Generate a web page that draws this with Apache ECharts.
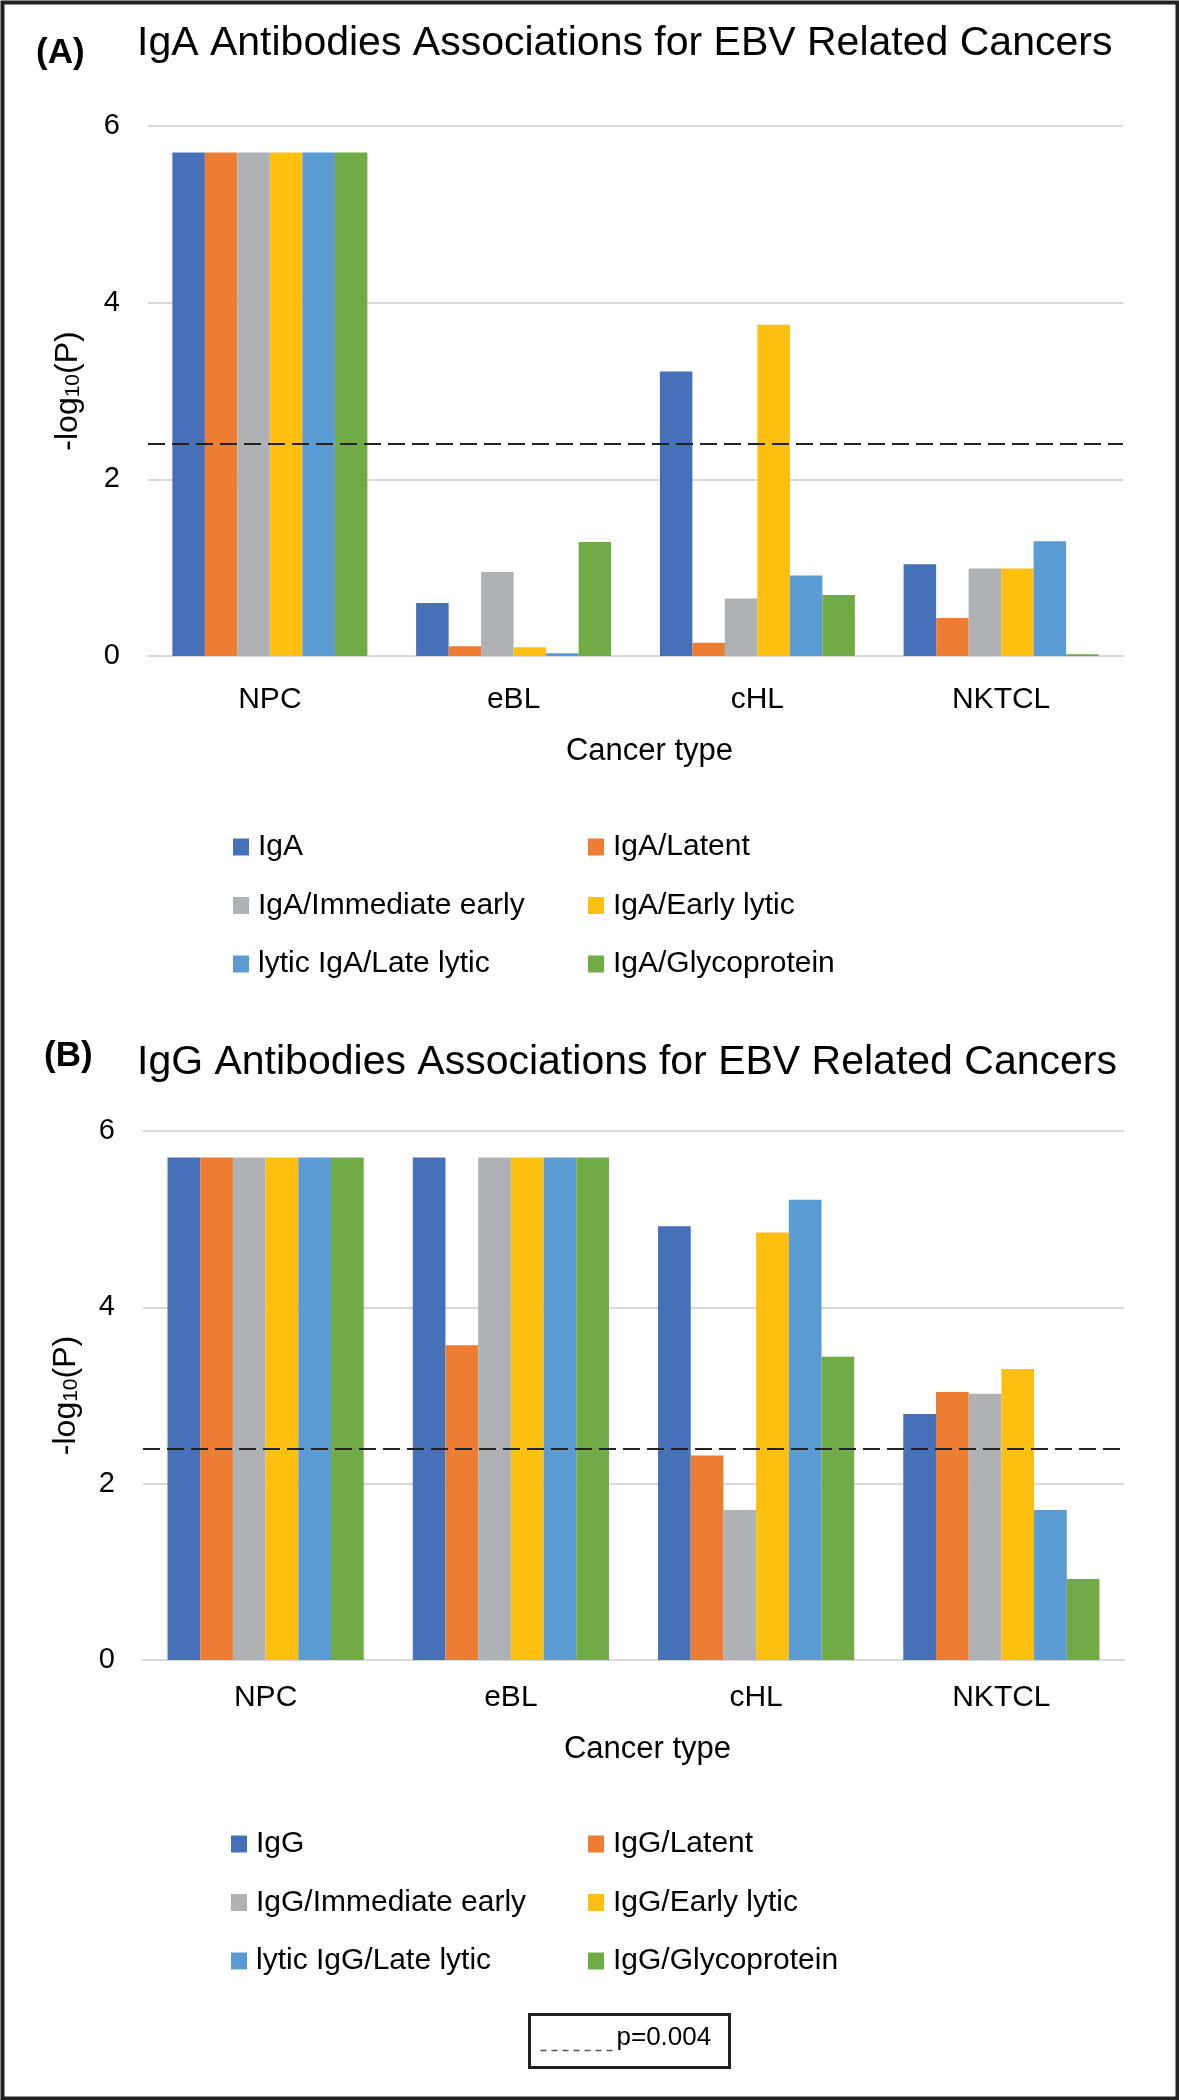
<!DOCTYPE html>
<html>
<head>
<meta charset="utf-8">
<script src="https://cdn.jsdelivr.net/npm/echarts@6/dist/echarts.min.js"></script>
<style>
  html, body { margin: 0; padding: 0; background: #fff; }
  #chart { width: 1179px; height: 2100px; }
</style>
</head>
<body>
<div id="chart"></div>
<script>
// ---------- data ----------
const categories = ['NPC', 'eBL', 'cHL', 'NKTCL'];
const yTicks = [0, 2, 4, 6];
const pThreshold = 0.004;

const namesA = ['IgA', 'IgA/Latent', 'IgA/Immediate early', 'IgA/Early lytic', 'lytic IgA/Late lytic', 'IgA/Glycoprotein'];
const igA          = [5.7, 0.60, 3.22, 1.04];
const igALatent    = [5.7, 0.11, 0.15, 0.43];
const igAImmediate = [5.7, 0.95, 0.65, 0.99];
const igAEarly     = [5.7, 0.10, 3.75, 0.99];
const igALate      = [5.7, 0.03, 0.91, 1.30];
const igAGlyco     = [5.7, 1.29, 0.69, 0.02];

const namesB = ['IgG', 'IgG/Latent', 'IgG/Immediate early', 'IgG/Early lytic', 'lytic IgG/Late lytic', 'IgG/Glycoprotein'];
const igG          = [5.7, 5.7, 4.92, 2.79];
const igGLatent    = [5.7, 3.57, 2.32, 3.04];
const igGImmediate = [5.7, 5.7, 1.70, 3.02];
const igGEarly     = [5.7, 5.7, 4.85, 3.30];
const igGLate      = [5.7, 5.7, 5.22, 1.70];
const igGGlyco     = [5.7, 5.7, 3.44, 0.92];

const valuesA = [igA, igALatent, igAImmediate, igAEarly, igALate, igAGlyco];
const valuesB = [igG, igGLatent, igGImmediate, igGEarly, igGLate, igGGlyco];

// ---------- styles ----------
const colors = ['#4670B8', '#ED7D32', '#AFB2B4', '#FDC010', '#5B9BD3', '#70AB45'];
const FONT = '"Liberation Sans", Arial, sans-serif';
const threshold = -Math.log10(pThreshold);

function yAxisDef(grid, gap) {
  return {
    type: 'value', gridIndex: grid, min: yTicks[0], max: yTicks[yTicks.length - 1], interval: 2,
    axisLine: { show: false }, axisTick: { show: false },
    splitLine: { lineStyle: { color: '#d9d9d9', width: 2 } },
    axisLabel: { fontSize: 29, color: '#000', margin: 28, fontFamily: FONT },
    name: '{a|-log}{s|10}{a|(P)}',
    nameLocation: 'middle', nameGap: gap,
    nameTextStyle: {
      fontFamily: FONT,
      rich: {
        a: { fontSize: 32, color: '#000', fontFamily: FONT, verticalAlign: 'bottom', lineHeight: 34 },
        s: { fontSize: 21, color: '#000', fontFamily: FONT, verticalAlign: 'bottom', lineHeight: 34 }
      }
    }
  };
}

function xAxisDef(grid, margin, nameGap) {
  return {
    type: 'category', gridIndex: grid, data: categories,
    axisTick: { show: false },
    axisLine: { lineStyle: { color: '#d9d9d9', width: 2 } },
    axisLabel: { fontSize: 30, color: '#000', margin: margin, fontFamily: FONT },
    name: 'Cancer type', nameLocation: 'middle', nameGap: nameGap,
    nameTextStyle: { fontSize: 31, color: '#000', fontFamily: FONT, padding: [0, 0, 0, 28] }
  };
}

function makeSeries(names, values, axisIndex) {
  return names.map((n, i) => {
    const s = {
      name: n, type: 'bar', xAxisIndex: axisIndex, yAxisIndex: axisIndex,
      data: values[i], barGap: '0%', barCategoryGap: '20%',
      itemStyle: { color: colors[i] },
      emphasis: { disabled: true }
    };
    if (i === names.length - 1) {
      s.markLine = {
        silent: true, symbol: ['none', 'none'], z: 10,
        label: { show: false },
        lineStyle: { color: '#222', width: 2, type: [17, 7] },
        data: [{ yAxis: threshold }]
      };
    }
    return s;
  });
}

function legendDef(data, left, top) {
  return {
    data: data, orient: 'vertical', left: left, top: top, padding: 0,
    itemWidth: 16, itemHeight: 17, itemGap: 28.5, icon: 'rect',
    selectedMode: false,
    textStyle: { fontSize: 30, color: '#000', fontFamily: FONT, lineHeight: 30, padding: [0, 0, 0, 4] }
  };
}

const chart = echarts.init(document.getElementById('chart'), null, { renderer: 'canvas' });

chart.setOption({
  backgroundColor: '#fff',
  animation: false,
  textStyle: { fontFamily: FONT },
  title: [
    { text: '(A)', left: 36, top: 36, padding: 0, textStyle: { fontSize: 35, fontWeight: 'bold', color: '#000', fontFamily: FONT } },
    { text: 'IgA Antibodies Associations for EBV Related Cancers', left: 137, top: 23, padding: 0,
      textStyle: { fontSize: 41, fontWeight: 'normal', color: '#000', fontFamily: FONT } },
    { text: '(B)', left: 44, top: 1039, padding: 0, textStyle: { fontSize: 35, fontWeight: 'bold', color: '#000', fontFamily: FONT } },
    { text: 'IgG Antibodies Associations for EBV Related Cancers', left: 137, top: 1042, padding: 0,
      textStyle: { fontSize: 41, fontWeight: 'normal', color: '#000', fontFamily: FONT } }
  ],
  grid: [
    { left: 148, top: 126, width: 975, height: 530 },
    { left: 143, top: 1131, width: 981, height: 529 }
  ],
  xAxis: [xAxisDef(0, 29, 80), xAxisDef(1, 23, 74)],
  yAxis: [yAxisDef(0, 64), yAxisDef(1, 61)],
  legend: [
    legendDef([namesA[0], namesA[2], namesA[4]], 233, 832),
    legendDef([namesA[1], namesA[3], namesA[5]], 588, 832),
    legendDef([namesB[0], namesB[2], namesB[4]], 231, 1829),
    legendDef([namesB[1], namesB[3], namesB[5]], 588, 1829)
  ],
  graphic: [
    { type: 'rect', left: 0, top: 0, z: 100, silent: true,
      shape: { x: 2, y: 2, width: 1175, height: 2096 },
      style: { fill: null, stroke: '#222', lineWidth: 4 } },
    { type: 'group', left: 528, top: 2013, z: 100, silent: true, children: [
      { type: 'rect', shape: { x: 0, y: 0, width: 200, height: 53 },
        style: { fill: '#fff', stroke: '#222', lineWidth: 3 } },
      { type: 'line', shape: { x1: 11, y1: 36, x2: 87, y2: 36 },
        style: { stroke: '#555', lineWidth: 1.5, lineDash: [6, 5] } },
      { type: 'text', x: 87, y: 23,
        style: { text: 'p=0.004', fontSize: 26, fill: '#000', fontFamily: FONT, verticalAlign: 'middle', align: 'left' } }
    ] }
  ],
  series: makeSeries(namesA, valuesA, 0).concat(makeSeries(namesB, valuesB, 1))
});
</script>
</body>
</html>
